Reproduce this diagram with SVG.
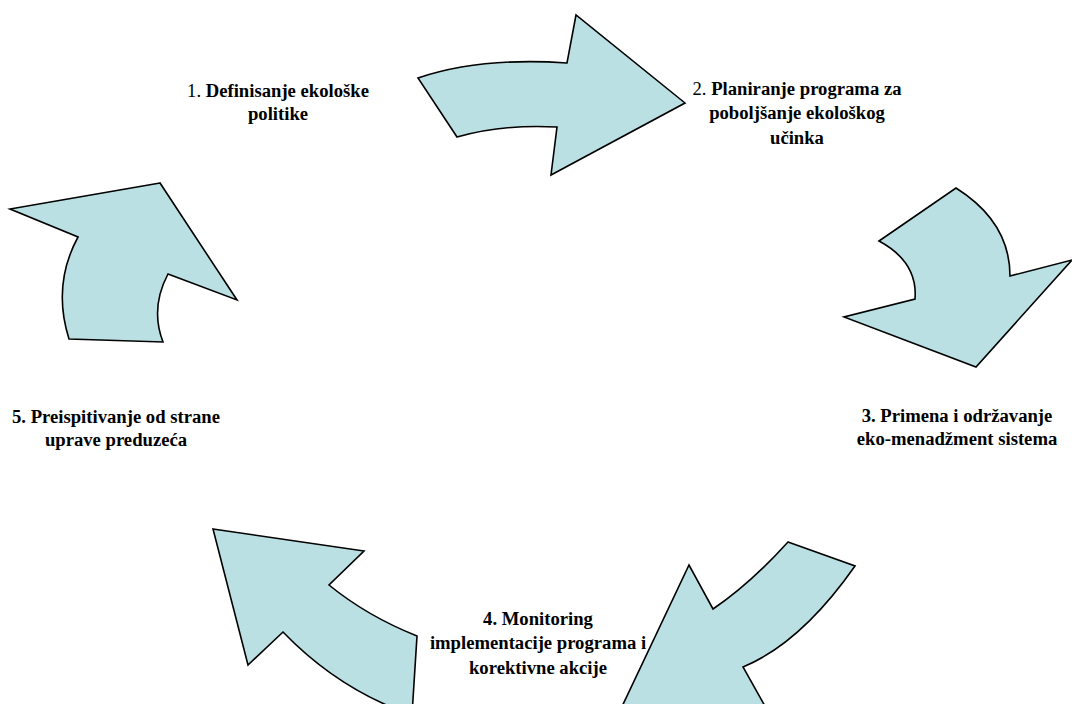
<svg xmlns="http://www.w3.org/2000/svg" width="1072" height="704" viewBox="0 0 1072 704">
<style>
.arrow{fill:#BAE0E3;stroke:#000;stroke-width:1.6;stroke-linejoin:miter}
.lbl{font-family:"Liberation Serif","Times New Roman",serif;font-size:18.67px;font-weight:bold;fill:#000;text-anchor:middle}
.n{font-weight:normal}
</style>
<rect width="1072" height="704" fill="#fff"/>
<g id="connectors">
<path id="arrow-1-2" class="arrow" d="M418,78 Q480,57 567,63 L576,15 L685,103 L551,175 L557,127 Q503,124 457,137 Z"/>
<path id="arrow-2-3" class="arrow" d="M956,188 Q1010,222 1010,276 L1072,260 L976,367 L844,317 L915,299 Q918,262 879,241 Z"/>
<path id="arrow-3-4" class="arrow" d="M788,542 L855,566 Q801,643 743,667 L770,715 L618,715 L689,565 L713,609 Q750,584 788,542 Z"/>
<path id="arrow-4-5" class="arrow" d="M213,529 L364,551 L329,585 Q367,616 417,636 L412,715 Q339,690 283,632 L248,665 Z"/>
<path id="arrow-5-1" class="arrow" d="M160,183 L10,209 L78,237 Q52,285 69,339 L163,342 Q150,308 168,274 L237,300 Z"/>
</g>
<g id="node-1">
<text class="lbl" x="278" y="97"><tspan class="n">1. </tspan>Definisanje ekološke</text>
<text class="lbl" x="278" y="120">politike</text>
</g>
<g id="node-2">
<text class="lbl" x="797" y="95"><tspan class="n">2. </tspan>Planiranje programa za</text>
<text class="lbl" x="797" y="119">poboljšanje ekološkog</text>
<text class="lbl" x="797" y="144">učinka</text>
</g>
<g id="node-3">
<text class="lbl" x="957" y="422">3. Primena i održavanje</text>
<text class="lbl" x="957" y="445">eko-menadžment sistema</text>
</g>
<g id="node-4">
<text class="lbl" x="538" y="625">4. Monitoring</text>
<text class="lbl" x="538" y="649">implementacije programa i</text>
<text class="lbl" x="538" y="674">korektivne akcije</text>
</g>
<g id="node-5">
<text class="lbl" x="116" y="423">5. Preispitivanje od strane</text>
<text class="lbl" x="116" y="446">uprave preduzeća</text>
</g>
</svg>
